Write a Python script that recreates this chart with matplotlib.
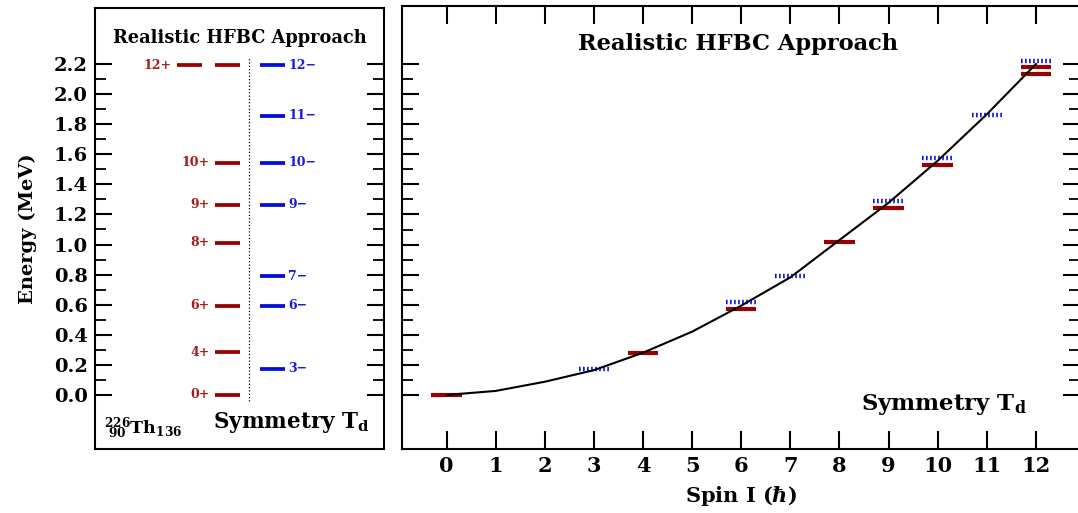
import matplotlib.pyplot as plt
import numpy as np
from matplotlib.ticker import FixedLocator

plt.rcParams['font.family'] = ['DejaVu Serif']
plt.rcParams['mathtext.fontset'] = 'dejavuserif'
plt.rcParams['font.weight'] = 'bold'
plt.rcParams['axes.labelweight'] = 'bold'

# level scheme (left panel)
pos_labels = ['0+', '4+', '6+', '8+', '9+', '10+', '12+', '12+']
pos_energy = [0.0, 0.284, 0.592, 1.012, 1.265, 1.544, 2.193, 2.193]
neg_labels = ['3\u2212', '6\u2212', '7\u2212', '9\u2212', '10\u2212', '11\u2212', '12\u2212']
neg_energy = [0.173, 0.592, 0.789, 1.265, 1.544, 1.857, 2.193]

# energy vs spin (right panel)
curve_spin = [0, 1, 2, 3, 4, 5, 6, 7, 8, 9, 10, 11, 12]
curve_energy = [0.0, 0.027, 0.088, 0.165, 0.281, 0.421, 0.594, 0.782, 1.030, 1.278, 1.557, 1.866, 2.200]
red_spin = [0, 4, 6, 8, 9, 10, 12, 12]
red_energy = [0.0, 0.281, 0.570, 1.017, 1.245, 1.529, 2.178, 2.136]
blue_spin = [3, 6, 7, 9, 10, 11, 12]
blue_energy = [0.171, 0.616, 0.791, 1.291, 1.573, 1.861, 2.222]

RED = '#9a0000'
BLUE = '#0010d8'
RED_TXT = '#a81818'
BLUE_TXT = '#1a1ae0'

fig = plt.figure(figsize=(10.78, 5.13), dpi=100)
ax1 = fig.add_axes([0.0881, 0.1248, 0.2684, 0.8596])
ax2 = fig.add_axes([0.3725, 0.1248, 0.6290, 0.8641])

major = np.round(np.arange(0, 2.21, 0.2), 2)
minor = np.round(np.arange(0.1, 2.11, 0.2), 2)

for ax in (ax1, ax2):
    for s in ax.spines.values():
        s.set_linewidth(1.5)
    ax.yaxis.set_major_locator(FixedLocator(major))
    ax.yaxis.set_minor_locator(FixedLocator(minor))
    ax.tick_params(axis='y', which='major', direction='in', length=12.5, width=1.5,
                   left=True, right=True)
    ax.tick_params(axis='y', which='minor', direction='in', length=8, width=1.3,
                   left=True, right=True)

# ---- left panel ----
ax1.set_xlim(0, 1)
ax1.set_ylim(-0.359, 2.572)
ax1.set_xticks([])
ax1.set_yticklabels(['%.1f' % v for v in major], fontsize=14)
ax1.tick_params(axis='y', which='major', pad=5)
ax1.set_ylabel('Energy (MeV)', fontsize=14, labelpad=12)

shift = 0.131
seen = {}
for lab in pos_labels:
    seen[lab] = seen.get(lab, 0) + 1
for lab, e in zip(pos_labels, pos_energy):
    n = seen[lab]
    seen[lab] = n - 1
    x0 = 0.415 - (n - 1) * shift
    ax1.plot([x0, x0 + 0.087], [e, e], color=RED, lw=2.7, solid_capstyle='butt')
    if n == pos_labels.count(lab):
        ax1.text(x0 - 0.018, e, lab, color=RED_TXT, fontsize=9, ha='right', va='center')

for lab, e in zip(neg_labels, neg_energy):
    ax1.plot([0.571, 0.657], [e, e], color=BLUE, lw=2.7, solid_capstyle='butt')
    ax1.text(0.668, e, lab, color=BLUE_TXT, fontsize=9, ha='left', va='center')

ax1.plot([0.531, 0.531], [-0.04, 2.24], color='black', lw=0.9, ls=':')
ax1.text(0.502, 0.932, 'Realistic HFBC Approach', transform=ax1.transAxes,
         fontsize=12.8, ha='center', va='center')
ax1.text(0.03, 0.045, r'$\mathbf{{}^{226}_{\ 90}Th_{136}}$', transform=ax1.transAxes,
         fontsize=12.5, ha='left', va='center')
ax1.text(0.95, 0.06, r'Symmetry T$_\mathrm{d}$', transform=ax1.transAxes,
         fontsize=15.5, ha='right', va='center')

# ---- right panel ----
ax2.set_xlim(-0.917, 12.89)
ax2.set_ylim(-0.359, 2.588)
ax2.set_xticks(curve_spin)
ax2.set_xticklabels([str(s) for s in curve_spin], fontsize=15)
ax2.tick_params(axis='x', direction='in', length=13, width=1.5, top=True, bottom=True, pad=5)
ax2.set_yticklabels([])
ax2.set_xlabel(r'Spin I ($\hbar$)', fontsize=15, labelpad=6)

half = 0.31
for s, e in zip(red_spin, red_energy):
    ax2.plot([s - half, s + half], [e, e], color=RED, lw=3.0, solid_capstyle='butt', zorder=2)
for s, e in zip(blue_spin, blue_energy):
    ax2.plot([s - half, s + half], [e, e], color=BLUE, lw=3.2, dashes=(0.36, 0.55), zorder=2)
ax2.plot(curve_spin, curve_energy, color='black', lw=1.5, zorder=3)

ax2.text(0.497, 0.914, 'Realistic HFBC Approach', transform=ax2.transAxes,
         fontsize=16.2, ha='center', va='center')
ax2.text(0.80, 0.10, r'Symmetry T$_\mathrm{d}$', transform=ax2.transAxes,
         fontsize=16.4, ha='center', va='center')

fig.savefig('out.png', dpi=100)
